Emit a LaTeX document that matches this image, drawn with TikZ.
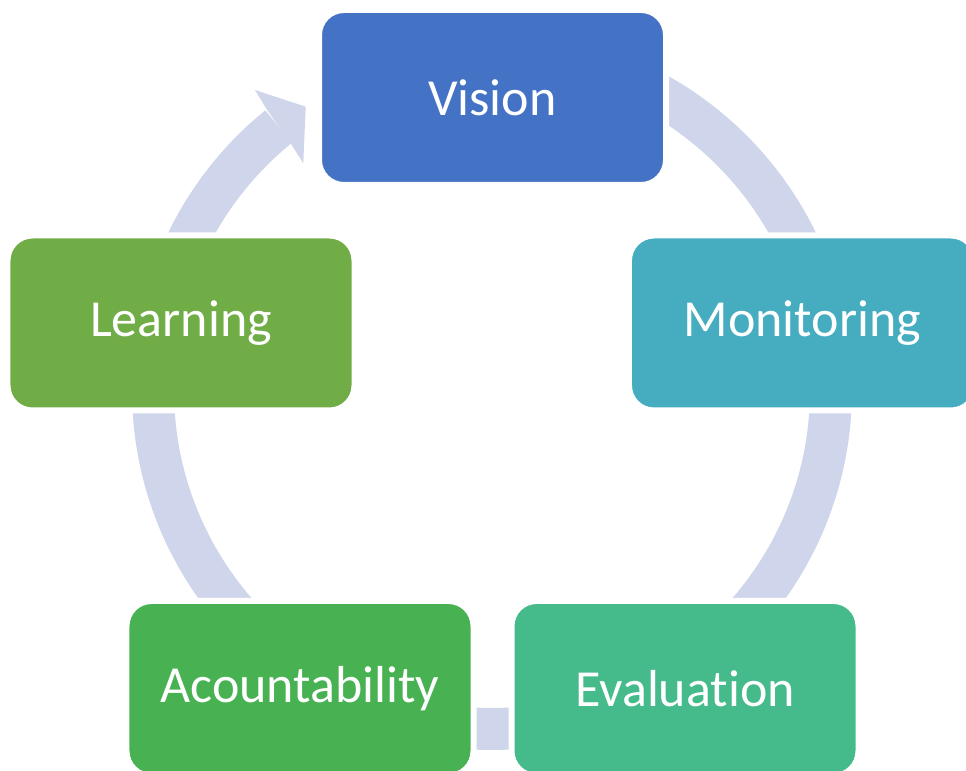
\documentclass[tikz,border=0pt]{standalone}
\usepackage{fontspec}
\setmainfont[RawFeature={-liga;-clig;-calt;-dlig}]{Carlito}
\usetikzlibrary{calc}

\definecolor{ringgray}{HTML}{CFD5EA}
\definecolor{visionblue}{HTML}{4472C4}
\definecolor{monitorteal}{HTML}{46ADC1}
\definecolor{evalgreen}{HTML}{45BA8B}
\definecolor{accountgreen}{HTML}{48B252}
\definecolor{learngreen}{HTML}{70AD47}

\begin{document}
\begin{tikzpicture}

\tikzstyle{stage}=[rectangle, rounded corners=0.25cm, minimum width=3.47cm, minimum height=1.75cm, draw=white, line width=0.06cm, text=white, font=\fontsize{14.8}{17.8}\selectfont]
\tikzstyle{ring}=[draw=ringgray, line width=0.42cm]

\useasboundingbox (0,0) rectangle (9.66,-7.71);

% the cycle ring, ending in the arrow head before Vision
\coordinate (centre) at (4.92,-3.90);
\draw[ring] ($(centre)+(90:3.39)$) arc[start angle=90, end angle=-231, radius=3.39cm];
\fill[ringgray] (2.667,-1.093) -- (2.55,-0.90) -- (3.057,-1.067) -- (3.033,-1.633) -- (2.917,-1.45) -- cycle;

\node[stage, fill=visionblue] (vision) at (4.925,-0.975) {Vision};
\node[stage, fill=monitorteal] (monitoring) at (8.025,-3.23) {Monitoring};
\node[stage, fill=evalgreen] (evaluation) at (6.85,-6.885) {Evaluation};
\node[stage, fill=accountgreen] (accountability) at (3.0,-6.885) {Acountability};
\node[stage, fill=learngreen] (learning) at (1.81,-3.23) {Learning};

\end{tikzpicture}
\end{document}
